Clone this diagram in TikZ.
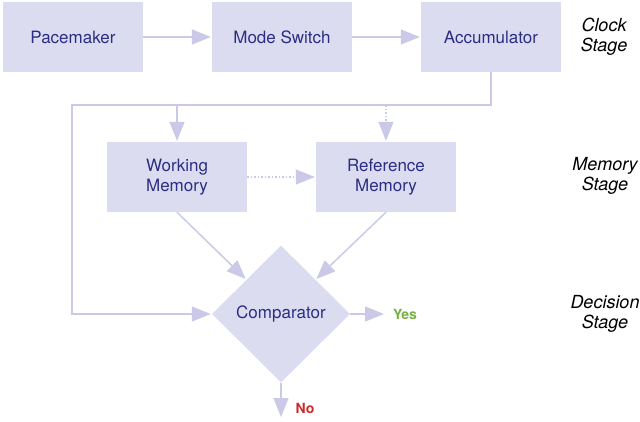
\documentclass[tikz,border=0pt]{standalone}
\usepackage{fontspec}
\setmainfont{TeX Gyre Heros}
\usetikzlibrary{arrows.meta,shapes.geometric,calc}
\definecolor{boxfill}{HTML}{DCDCF0}
\definecolor{linec}{HTML}{CACAE8}
\definecolor{textc}{HTML}{2B2E82}
\definecolor{yesc}{HTML}{76B041}
\definecolor{noc}{HTML}{CC2929}
\begin{document}
\begin{tikzpicture}[x=1pt,y=-1pt,
  box/.style={fill=boxfill, draw=none, minimum width=140pt, minimum height=70pt, inner sep=0pt,
    font=\fontsize{17}{20}\selectfont, text=textc, align=center},
  dia/.style={diamond, aspect=1, fill=boxfill, draw=none, minimum width=138pt, minimum height=137pt,
    inner sep=0pt, font=\fontsize{17}{20}\selectfont, text=textc},
  conn/.style={draw=linec, line width=1.5pt, shorten >=1pt, -{Triangle[length=19pt,width=15pt,fill=linec]}},
  dotconn/.style={draw=linec, line width=1.5pt, dotted, shorten >=1pt, -{Triangle[length=19pt,width=15pt,fill=linec]}},
  stage/.style={font=\fontsize{18}{20}\selectfont\itshape, text=black, align=center, inner sep=0pt},
  answer/.style={font=\fontsize{14}{16}\selectfont\bfseries, inner sep=0pt}
]
\useasboundingbox (0,0) rectangle (640,421);

\node[box] (pace) at (73,37) {Pacemaker};
\node[box] (mode) at (282,37) {Mode Switch};
\node[box] (acc) at (491,37) {Accumulator};
\node[box] (wm) at (177,177) {Working\\Memory};
\node[box] (rm) at (386,177) {Reference\\Memory};
\node[dia] (comp) at (281,314) {Comparator};

\node[answer, text=yesc] (yes) at (405,314) {Yes};
\node[answer, text=noc] (no) at (305,408) {No};

\node[stage] (s1) at (604,37) {Clock\\Stage};
\node[stage] (s2) at (605,176) {Memory\\Stage};
\node[stage] (s3) at (605,314) {Decision\\Stage};

\coordinate (c1) at (491,105);
\coordinate (c2) at (72,105);
\coordinate (yesend) at (385,314);
\coordinate (noend) at (281,418);

\draw[conn] (pace) -- (mode);
\draw[conn] (mode) -- (acc);
\draw[conn] (acc.south) -- (c1) -- (c2) |- (comp.west);
\draw[conn] (wm.north |- c1) -- (wm.north);
\draw[dotconn] (rm.north |- c1) -- (rm.north);
\draw[dotconn] (wm.east) -- (rm.west);
\draw[conn] (wm.south) -- ($(comp.north)!0.5!(comp.west)$);
\draw[conn] (rm.south) -- ($(comp.north)!0.5!(comp.east)$);
\draw[conn] (comp.east) -- (yesend);
\draw[conn] (comp.south) -- (noend);
\end{tikzpicture}
\end{document}
